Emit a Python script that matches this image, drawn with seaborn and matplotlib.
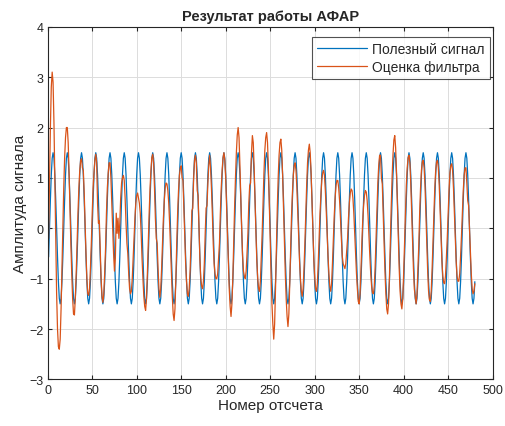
import numpy as np
import pandas as pd
import matplotlib
matplotlib.use('Agg')
import matplotlib.pyplot as plt
import seaborn as sns

# one period (16 samples) of the useful signal
useful_period = [-0.57, 0, 0.57, 1.06, 1.39, 1.5, 1.39, 1.06,
                 0.57, 0, -0.57, -1.06, -1.39, -1.5, -1.39, -1.06]
useful = useful_period * 30

# filter estimate, read cycle by cycle (16 samples per row)
estimate = [
    -0.2, 0.9, 2.0, 2.8, 3.1, 2.9, 2.1, 1.0, -0.2, -1.3, -2.0, -2.35, -2.4, -2.2, -1.6, -0.8,
    0.0, 0.8, 1.4, 1.8, 2.0, 2.0, 1.7, 1.1, 0.4, -0.3, -0.9, -1.4, -1.7, -1.72, -1.4, -0.9,
    -0.3, 0.3, 0.8, 1.15, 1.35, 1.38, 1.2, 1.15, 0.7, 0.1, -0.5, -1.0, -1.3, -1.33, -1.2, -0.8,
    -0.3, 0.3, 0.8, 1.1, 1.35, 1.47, 1.3, 0.5, 0.1, 0.15, -0.4, -1.0, -1.35, -1.47, -1.3, -0.9,
    -0.4, 0.3, 0.8, 1.1, 1.3, 1.3, 1.0, 0.5, 0.0, -0.5, -0.85, -0.6, 0.3, -0.1, 0.2, -0.2,
    0.1, 0.6, 0.9, 1.0, 1.05, 0.95, 0.6, 0.1, -0.3, -0.5, -0.9, -1.2, -1.3, -1.25, -1.0, -0.6,
    -0.2, 0.2, 0.5, 0.65, 0.7, 0.6, 0.5, 0.3, -0.1, -0.6, -1.0, -1.35, -1.55, -1.63, -1.4, -0.9,
    -0.3, 0.3, 0.8, 1.15, 1.4, 1.47, 1.3, 0.8, 0.2, -0.2, -0.3, -0.8, -1.2, -1.37, -1.2, -0.8,
    -0.3, 0.2, 0.55, 0.8, 0.9, 0.88, 0.75, 0.5, 0.1, -0.4, -0.9, -1.35, -1.7, -1.83, -1.6, -1.0,
    -0.3, 0.3, 0.75, 1.05, 1.2, 1.24, 1.0, 0.95, 0.4, -0.2, -0.7, -1.05, -1.3, -1.35, -1.2, -0.85,
    -0.3, 0.35, 0.4, 1.0, 1.35, 1.45, 1.3, 0.75, 0.65, 0.0, -0.6, -1.0, -1.15, -1.2, -1.05, -0.7,
    -0.1, 0.4, 0.45, 0.9, 1.25, 1.45, 1.2, 0.8, 0.3, -0.3, -0.7, -0.9, -1.0, -1.0, -0.9, -0.6,
    -0.3, 0.3, 0.8, 1.15, 1.4, 1.5, 1.35, 1.0, 0.45, -0.15, -0.7, -1.2, -1.55, -1.75, -1.5, -1.0,
    -0.3, 0.4, 1.0, 1.5, 1.85, 2.0, 1.8, 1.25, 0.6, -0.05, -0.55, -0.85, -0.95, -1.0, -0.85, -0.5,
    -0.1, 0.5, 0.85, 0.9, 1.5, 1.84, 1.7, 1.2, 0.55, -0.1, -0.65, -1.0, -1.2, -1.25, -1.05, -0.6,
    -0.1, 0.5, 1.1, 1.55, 1.8, 1.9, 1.7, 1.2, 0.5, -0.2, -0.9, -1.5, -1.9, -2.2, -1.9, -1.2,
    -0.4, 0.4, 1.0, 1.45, 1.7, 1.77, 1.55, 1.05, 0.4, -0.3, -0.9, -1.4, -1.75, -1.95, -1.7, -1.1,
    -0.4, 0.25, 0.7, 1.05, 1.25, 1.3, 1.15, 0.8, 0.35, -0.15, -0.65, -1.0, -1.25, -1.35, -1.2, -0.8,
    -0.3, 0.3, 0.85, 1.3, 1.55, 1.67, 1.5, 1.1, 0.55, -0.05, -0.6, -0.95, -1.2, -1.25, -1.1, -0.7,
    -0.2, 0.3, 0.65, 0.95, 1.1, 1.15, 1.05, 0.75, 0.35, -0.1, -0.55, -0.9, -1.15, -1.25, -1.1, -0.7,
    -0.2, 0.25, 0.6, 0.85, 0.95, 0.95, 0.8, 0.55, 0.2, -0.2, -0.55, -0.7, -0.75, -0.8, -0.7, -0.45,
    -0.2, 0.2, 0.5, 0.7, 0.78, 0.75, 0.6, 0.3, -0.1, -0.5, -0.9, -1.2, -1.45, -1.5, -1.3, -0.85,
    -0.3, 0.15, 0.45, 0.65, 0.75, 0.72, 0.55, 0.25, -0.15, -0.55, -0.9, -1.15, -1.28, -1.3, -1.15, -0.75,
    -0.2, 0.4, 0.9, 1.25, 1.45, 1.45, 1.0, 0.88, 0.3, -0.3, -0.85, -1.3, -1.6, -1.7, -1.5, -1.0,
    -0.3, 0.4, 1.0, 1.45, 1.75, 1.84, 1.6, 1.1, 0.45, -0.2, -0.8, -1.25, -1.5, -1.6, -1.4, -0.9,
    -0.3, 0.3, 0.85, 1.2, 1.4, 1.45, 1.3, 0.9, 0.35, -0.25, -0.8, -1.2, -1.35, -1.5, -1.3, -0.85,
    -0.35, 0.3, 0.8, 1.15, 1.32, 1.35, 1.2, 0.85, 0.3, -0.3, -0.85, -1.25, -1.42, -1.45, -1.25, -0.8,
    -0.25, 0.3, 0.8, 1.15, 1.32, 1.35, 1.2, 0.85, 0.35, -0.2, -0.65, -0.95, -1.08, -1.1, -0.95, -0.6,
    -0.2, 0.3, 0.75, 1.1, 1.25, 1.28, 1.15, 0.8, 0.3, -0.2, -0.65, -0.95, -1.05, -1.05, -0.9, -0.55,
    -0.15, 0.3, 0.75, 1.05, 1.2, 1.2, 0.9, 0.55, 0.45, 0.0, -0.5, -0.9, -1.2, -1.3, -1.25, -1.1,
]

samples = np.arange(1, len(useful) + 1)
labels = ['Полезный сигнал', 'Оценка фильтра']
colors = ['#0072BD', '#D95319']

df = pd.DataFrame({
    'n': np.concatenate([samples, samples]),
    'value': useful + estimate,
    'series': [labels[0]] * len(useful) + [labels[1]] * len(estimate),
})

sns.set_style('whitegrid')
plt.rcParams['font.family'] = ['Liberation Sans', 'DejaVu Sans']

fig = plt.figure(figsize=(5.05, 4.27), dpi=100)
ax = fig.add_axes([0.0945, 0.109, 0.881, 0.826])

sns.lineplot(data=df, x='n', y='value', hue='series', palette=colors,
             linewidth=0.9, ax=ax, estimator=None, sort=False)

ax.set_xlim(0, 500)
ax.set_ylim(-3, 4)
ax.set_xticks(range(0, 501, 50))
ax.set_yticks(range(-3, 5))
ax.grid(True, color='#dcdcdc', linewidth=0.7)
for s in ax.spines.values():
    s.set_color('#262626')
    s.set_linewidth(0.8)
ax.tick_params(direction='in', length=3, top=True, right=True,
               labelsize=9, colors='#262626', pad=3,
               bottom=True, left=True)

ax.set_xlabel('Номер отсчета', fontsize=11, color='#262626', labelpad=2)
ax.set_ylabel('Амплитуда сигнала', fontsize=11, color='#262626', labelpad=2)
ax.set_title('Результат работы АФАР', fontsize=10.5, fontweight='bold', pad=5)

leg = ax.legend(loc='upper right', bbox_to_anchor=(0.993, 0.97), fontsize=10,
                frameon=True, fancybox=False, borderaxespad=0.0,
                handlelength=3.6, borderpad=0.35, labelspacing=0.25,
                handletextpad=0.4, title=None)
leg.get_frame().set_edgecolor('#262626')
leg.get_frame().set_linewidth(0.8)

fig.savefig('out.png', dpi=100)
